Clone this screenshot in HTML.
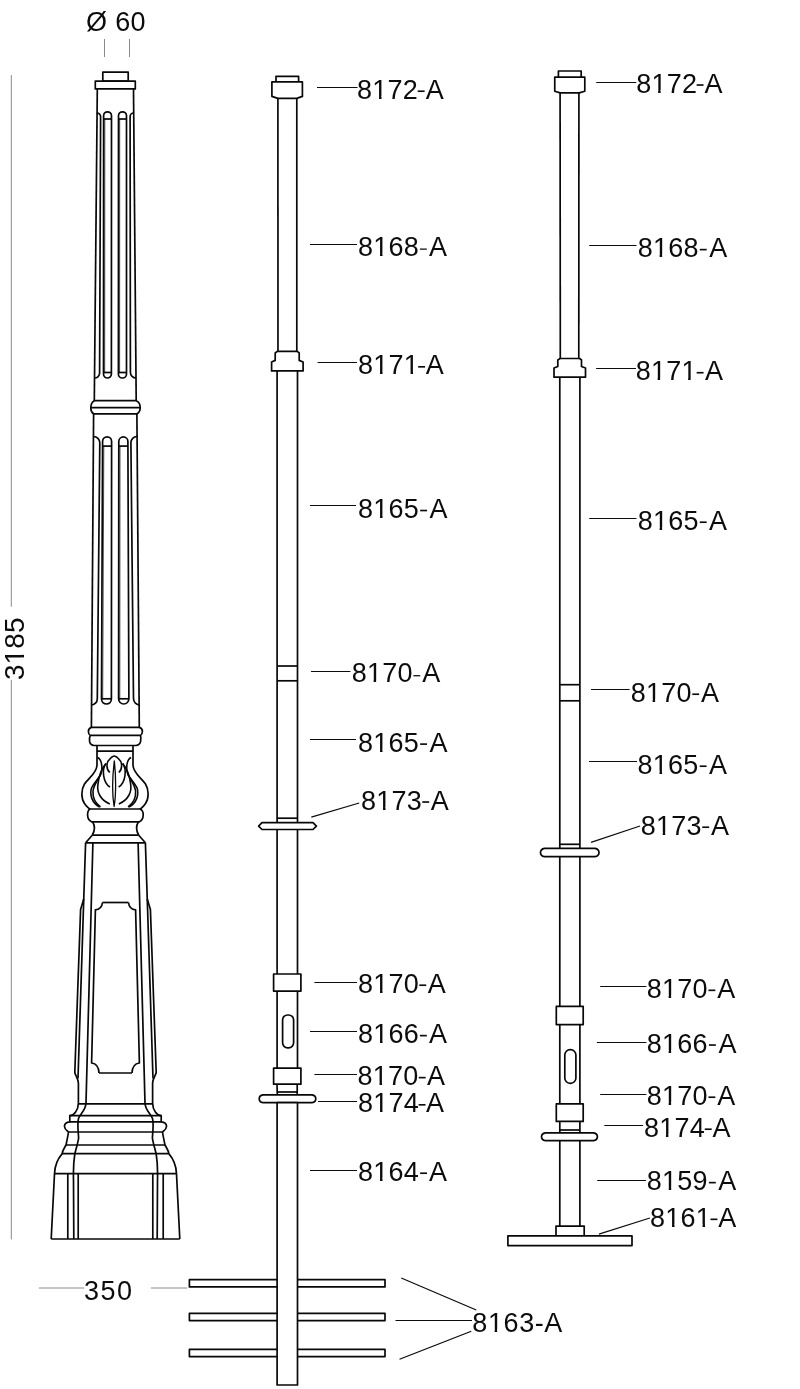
<!DOCTYPE html>
<html><head><meta charset="utf-8"><style>
html,body{margin:0;padding:0;background:#fff;}
svg{display:block;will-change:transform;font-family:"Liberation Sans",sans-serif;}
</style></head><body>
<svg width="800" height="1389" viewBox="0 0 800 1389" stroke-linejoin="round" stroke-linecap="butt">
<rect width="800" height="1389" fill="#fff"/>
<rect x="102.8" y="72.1" width="25.4" height="9.0" rx="0" stroke="#080808" stroke-width="1.7" fill="#fff"/>
<rect x="95.3" y="81.2" width="40.0" height="7.7" rx="0" stroke="#080808" stroke-width="1.7" fill="#fff"/>
<line x1="97.3" y1="89" x2="94.3" y2="400.7" stroke="#080808" stroke-width="1.7"/>
<line x1="133.5" y1="89" x2="136.2" y2="400.7" stroke="#080808" stroke-width="1.7"/>
<path d="M103.5,374.05 L103.6,115.75 A3.950000000000003,3.950000000000003 0 0 1 111.5,115.75 L111.4,374.05 A3.950000000000003,3.950000000000003 0 0 1 103.5,374.05" stroke="#080808" stroke-width="1.7" fill="none" />
<line x1="103.6" y1="119.0" x2="111.5" y2="119.0" stroke="#080808" stroke-width="1.7"/>
<line x1="103.5" y1="372.5" x2="111.4" y2="372.5" stroke="#080808" stroke-width="1.7"/>
<line x1="104.8" y1="119.0" x2="104.7" y2="372.5" stroke="#080808" stroke-width="0.7"/>
<path d="M118.4,373.95 L118.5,115.8 A4.0,4.0 0 0 1 126.5,115.8 L126.5,373.95 A4.049999999999997,4.049999999999997 0 0 1 118.4,373.95" stroke="#080808" stroke-width="1.7" fill="none" />
<line x1="118.5" y1="119.0" x2="126.5" y2="119.0" stroke="#080808" stroke-width="1.7"/>
<line x1="118.4" y1="372.5" x2="126.5" y2="372.5" stroke="#080808" stroke-width="1.7"/>
<line x1="119.7" y1="119.0" x2="119.60000000000001" y2="372.5" stroke="#080808" stroke-width="0.7"/>
<path d="M97.1,113.0 A3.5,3.5 0 0 1 100.6,116.5 L99.6,373.0 A5.0,5.0 0 0 1 94.6,378" stroke="#080808" stroke-width="1.7" fill="none" />
<path d="M133.6,113.0 A3.5,3.5 0 0 0 130.1,116.5 L130.4,372.4 A5.599999999999994,5.599999999999994 0 0 0 136.0,378" stroke="#080808" stroke-width="1.7" fill="none" />
<path d="M94.3,400.7 L136.2,400.7 Q140.3,402.5 140.2,407.7 Q140.2,412 136.9,413.8 L93.6,413.8 Q90.7,412 90.8,407.7 Q90.9,402.5 94.3,400.7 Z" stroke="#080808" stroke-width="1.7" fill="#fff" />
<line x1="90.8" y1="407.7" x2="140.2" y2="407.7" stroke="#080808" stroke-width="1.7"/>
<line x1="93.6" y1="413.8" x2="91.4" y2="727.4" stroke="#080808" stroke-width="1.7"/>
<line x1="136.9" y1="413.8" x2="139.3" y2="727.4" stroke="#080808" stroke-width="1.7"/>
<path d="M101.5,699.05 L102.6,441.4 A4.5,4.5 0 0 1 111.6,441.4 L111.4,699.05 A4.950000000000003,4.950000000000003 0 0 1 101.5,699.05" stroke="#080808" stroke-width="1.7" fill="none" />
<line x1="102.6" y1="446.09999999999997" x2="111.6" y2="446.09999999999997" stroke="#080808" stroke-width="1.7"/>
<line x1="101.5" y1="698.8" x2="111.4" y2="698.8" stroke="#080808" stroke-width="1.7"/>
<line x1="103.8" y1="446.09999999999997" x2="102.7" y2="698.8" stroke="#080808" stroke-width="0.7"/>
<path d="M118.6,698.85 L118.8,441.45 A4.550000000000004,4.550000000000004 0 0 1 127.9,441.45 L128.9,698.85 A5.150000000000006,5.150000000000006 0 0 1 118.6,698.85" stroke="#080808" stroke-width="1.7" fill="none" />
<line x1="118.8" y1="446.09999999999997" x2="127.9" y2="446.09999999999997" stroke="#080808" stroke-width="1.7"/>
<line x1="118.6" y1="698.8" x2="128.9" y2="698.8" stroke="#080808" stroke-width="1.7"/>
<line x1="120.0" y1="446.09999999999997" x2="119.8" y2="698.8" stroke="#080808" stroke-width="0.7"/>
<path d="M93.5,436.5 A6.299999999999997,6.299999999999997 0 0 1 99.8,442.8 L97.3,698.9 A6.099999999999994,6.099999999999994 0 0 1 91.2,705" stroke="#080808" stroke-width="1.7" fill="none" />
<path d="M137.0,436.5 A6.099999999999994,6.099999999999994 0 0 0 130.9,442.6 L133.5,698.6 A6.400000000000006,6.400000000000006 0 0 0 139.9,705" stroke="#080808" stroke-width="1.7" fill="none" />
<path d="M91.4,727.4 L139.3,727.4 Q142.6,728.5 142.4,731.5 Q142.2,734.5 140.5,735.4 Q141.2,738 140.6,741.5 Q139.5,745.3 136,745.5 L94,745.5 Q90.5,745.3 89.6,741.5 Q89,738 90.3,735.4 Q88.4,734.5 88.4,731.5 Q88.3,728.5 91.4,727.4 Z" stroke="#080808" stroke-width="1.7" fill="#fff" />
<line x1="90.3" y1="735.4" x2="140.5" y2="735.4" stroke="#080808" stroke-width="1.7"/>
<line x1="96.9" y1="751.2" x2="133.0" y2="751.2" stroke="#080808" stroke-width="1.7"/>
<path d="M97,745.5 L97,765 C97,773 88.5,778 84.5,784 C80.8,790 81.2,799 84.5,803.5 C86.5,806.5 88,808.5 90.5,809" stroke="#080808" stroke-width="1.7" fill="none" />
<path d="M133,745.5 L133,765 C133,773 141.5,778 145.5,784 C149.2,790 148.8,799 145.5,803.5 C143.5,806.5 142,808.5 139.5,809" stroke="#080808" stroke-width="1.7" fill="none" />
<path d="M90,809 L140,809 Q143.5,810.5 143.2,815.3 Q143,820 139.5,821.8 L91.5,821.8 Q87.8,820 87.6,815.3 Q87.4,810.5 90,809 Z" stroke="#080808" stroke-width="1.7" fill="#fff" />
<path d="M92.5,821.8 Q96.5,828 92.3,835.2" stroke="#080808" stroke-width="1.7" fill="none" />
<path d="M138.5,821.8 Q134.5,828 138.7,835.2" stroke="#080808" stroke-width="1.7" fill="none" />
<line x1="92.3" y1="835.2" x2="138.7" y2="835.2" stroke="#080808" stroke-width="1.7"/>
<line x1="92.3" y1="835.2" x2="85.6" y2="842.8" stroke="#080808" stroke-width="1.7"/>
<line x1="138.7" y1="835.2" x2="145.4" y2="842.8" stroke="#080808" stroke-width="1.7"/>
<line x1="85.6" y1="842.8" x2="145.4" y2="842.8" stroke="#080808" stroke-width="1.7"/>
<path d="M109.8,772.5 C106,769 106,762 110,758.8 C111.5,757 113,756 114.3,756 C115.6,756 117,757 118.6,758.8 C122.6,762 122.6,769 118.8,772.5" stroke="#080808" stroke-width="1.6" fill="none" />
<path d="M110,787 C103,783 101.5,769 106,763.5" stroke="#080808" stroke-width="1.6" fill="none" />
<path d="M118.6,787 C125.6,783 127.1,769 122.6,763.5" stroke="#080808" stroke-width="1.6" fill="none" />
<path d="M109.8,804 C100.5,800 96.5,792 98,784 C99,775 102,768 106,763.5" stroke="#080808" stroke-width="1.6" fill="none" />
<path d="M118.8,804 C128.1,800 132.1,792 130.6,784 C129.6,775 126.6,768 122.6,763.5" stroke="#080808" stroke-width="1.6" fill="none" />
<path d="M114.3,761 C112.6,775 112.2,795 114.1,806.5 C116.2,795 116,775 114.3,761 Z" stroke="#080808" stroke-width="1.3" fill="none" />
<path d="M97.5,757.5 C101.5,759 102.5,766 101.5,772 C100,778 94,782 91.5,788 C89.5,795 92,803 99.5,807" stroke="#080808" stroke-width="1.6" fill="none" />
<path d="M101,774 C98,780 94,784 93,791 C92.5,798 95,803 100.5,807" stroke="#080808" stroke-width="1.6" fill="none" />
<path d="M131.1,757.5 C127.1,759 126.1,766 127.1,772 C128.6,778 134.6,782 137.1,788 C139.1,795 136.6,803 129.1,807" stroke="#080808" stroke-width="1.6" fill="none" />
<path d="M127.6,774 C130.6,780 134.6,784 135.6,791 C136.1,798 133.6,803 128.1,807" stroke="#080808" stroke-width="1.6" fill="none" />
<path d="M85.6,842.8 L83.75,899 L80.6,909.4 L74.8,1072.5 C75.5,1076 78,1078 78.4,1083 L78.4,1103 C78.4,1110 74,1115.5 69.8,1115.6 L69.8,1121.8 C66,1122 64.3,1124 64.5,1126.5 C64.8,1130 67.5,1131 68.5,1132 C67.8,1137 66.8,1141 66,1145 C64.5,1148 62.5,1150 62.2,1153.6 C57.5,1159 54.8,1166 54.5,1173.7 L51.2,1239" stroke="#080808" stroke-width="1.7" fill="none" />
<path d="M83.75,899 L78,1078.5" stroke="#080808" stroke-width="1.7" fill="none" />
<path d="M92.9,842.8 L86,1103 C86,1110 80,1114 78.5,1118.5 C77,1124 78.5,1134 78.6,1138 C78.2,1142 76,1149 74.8,1154 C73.5,1162 73.2,1170 73.5,1180 L73.8,1239" stroke="#080808" stroke-width="1.7" fill="none" />
<path d="M102.5,902.5 C102,907 99,909.6 95.4,909.8 L91.6,1063 C95.8,1063.5 98.8,1067 99,1073" stroke="#080808" stroke-width="1.7" fill="none" />
<line x1="67.8" y1="1173.7" x2="67.8" y2="1239" stroke="#080808" stroke-width="1.7"/>
<line x1="78.2" y1="1173.7" x2="78.2" y2="1239" stroke="#080808" stroke-width="1.7"/>
<path d="M145.4,842.8 L147.25,899 L150.4,909.4 L156.2,1072.5 C155.5,1076 153.0,1078 152.6,1083 L152.6,1103 C152.6,1110 157.0,1115.5 161.2,1115.6 L161.2,1121.8 C165.0,1122 166.7,1124 166.5,1126.5 C166.2,1130 163.5,1131 162.5,1132 C163.2,1137 164.2,1141 165.0,1145 C166.5,1148 168.5,1150 168.8,1153.6 C173.5,1159 176.2,1166 176.5,1173.7 L179.8,1239" stroke="#080808" stroke-width="1.7" fill="none" />
<path d="M147.25,899 L153.0,1078.5" stroke="#080808" stroke-width="1.7" fill="none" />
<path d="M138.1,842.8 L145.0,1103 C145.0,1110 151.0,1114 152.5,1118.5 C154.0,1124 152.5,1134 152.4,1138 C152.8,1142 155.0,1149 156.2,1154 C157.5,1162 157.8,1170 157.5,1180 L157.2,1239" stroke="#080808" stroke-width="1.7" fill="none" />
<path d="M128.5,902.5 C129.0,907 132.0,909.6 135.6,909.8 L139.4,1063 C135.2,1063.5 132.2,1067 132.0,1073" stroke="#080808" stroke-width="1.7" fill="none" />
<line x1="163.2" y1="1173.7" x2="163.2" y2="1239" stroke="#080808" stroke-width="1.7"/>
<line x1="152.8" y1="1173.7" x2="152.8" y2="1239" stroke="#080808" stroke-width="1.7"/>
<line x1="102.5" y1="902.5" x2="128.5" y2="902.5" stroke="#080808" stroke-width="1.7"/>
<line x1="99" y1="1073" x2="132.0" y2="1073" stroke="#080808" stroke-width="1.7"/>
<line x1="78.4" y1="1103.8" x2="152.6" y2="1103.8" stroke="#080808" stroke-width="1.7"/>
<line x1="69.8" y1="1115.6" x2="161.2" y2="1115.6" stroke="#080808" stroke-width="1.7"/>
<line x1="69.8" y1="1121.8" x2="161.2" y2="1121.8" stroke="#080808" stroke-width="1.7"/>
<line x1="68.5" y1="1132" x2="162.5" y2="1132" stroke="#080808" stroke-width="1.7"/>
<line x1="66" y1="1145" x2="165.0" y2="1145" stroke="#080808" stroke-width="1.7"/>
<line x1="62.2" y1="1153.6" x2="168.8" y2="1153.6" stroke="#080808" stroke-width="1.7"/>
<line x1="54.5" y1="1173.7" x2="176.5" y2="1173.7" stroke="#080808" stroke-width="1.7"/>
<line x1="51.2" y1="1239" x2="179.8" y2="1239" stroke="#080808" stroke-width="1.7"/>
<line x1="277.9" y1="98.4" x2="278.0" y2="351.5" stroke="#080808" stroke-width="1.7"/>
<line x1="296.8" y1="98.4" x2="296.8" y2="351.5" stroke="#080808" stroke-width="1.7"/>
<line x1="277.1" y1="371" x2="277.1" y2="974" stroke="#080808" stroke-width="1.7"/>
<line x1="297.5" y1="371" x2="297.5" y2="974" stroke="#080808" stroke-width="1.7"/>
<line x1="277.1" y1="666" x2="297.5" y2="666" stroke="#080808" stroke-width="1.7"/>
<line x1="277.1" y1="680.8" x2="297.5" y2="680.8" stroke="#080808" stroke-width="1.7"/>
<line x1="277.1" y1="818.2" x2="297.5" y2="818.2" stroke="#080808" stroke-width="1.7"/>
<path d="M276,81.8 L276,76.3 L298.6,76.3 L298.6,81.8" stroke="#080808" stroke-width="1.7" fill="#fff" />
<path d="M271.9,81.8 L302.4,81.8 L302.4,96.4 L296.8,98.4 L277.8,98.4 L271.9,96.4 Z" stroke="#080808" stroke-width="1.7" fill="#fff" />
<path d="M277.3,351.4 L297.3,351.4 L299.2,353 L299.2,360.4 L303.1,362 L303.1,370.9 L271.6,370.9 L271.6,362 L275.2,360.4 L275.2,353 Z" stroke="#080808" stroke-width="1.7" fill="#fff" />
<path d="M262,822.7 L313,822.7 L316.4,826.1 L313,829.5 L262,829.5 L258.6,826.1 Z" stroke="#080808" stroke-width="1.7" fill="#fff" />
<rect x="273.6" y="974" width="27.3" height="17.1" rx="0" stroke="#080808" stroke-width="1.7" fill="#fff"/>
<line x1="277.1" y1="991.1" x2="277.1" y2="1068.1" stroke="#080808" stroke-width="1.7"/>
<line x1="297.5" y1="991.1" x2="297.5" y2="1068.1" stroke="#080808" stroke-width="1.7"/>
<rect x="282.6" y="1015" width="11" height="32.8" rx="5" stroke="#080808" stroke-width="1.7" fill="#fff"/>
<rect x="273.6" y="1068.1" width="27.3" height="16.1" rx="0" stroke="#080808" stroke-width="1.7" fill="#fff"/>
<line x1="277" y1="1084.2" x2="277.3" y2="1094.8" stroke="#080808" stroke-width="1.7"/>
<line x1="297.2" y1="1084.2" x2="297.2" y2="1094.8" stroke="#080808" stroke-width="1.7"/>
<line x1="277.3" y1="1092" x2="297.2" y2="1092" stroke="#080808" stroke-width="1.7"/>
<path d="M263,1094.8 L312,1094.8 Q315.8,1095.5 315.8,1098.7 Q315.8,1102 312,1102.7 L263,1102.7 Q259.2,1102 259.2,1098.7 Q259.2,1095.5 263,1094.8 Z" stroke="#080808" stroke-width="1.7" fill="#fff" />
<rect x="189.4" y="1279.7" width="195.6" height="7.2" rx="0" stroke="#080808" stroke-width="1.7" fill="#fff"/>
<rect x="189.4" y="1313.4" width="195.6" height="7.2" rx="0" stroke="#080808" stroke-width="1.7" fill="#fff"/>
<rect x="189.4" y="1349.4" width="195.6" height="7.2" rx="0" stroke="#080808" stroke-width="1.7" fill="#fff"/>
<rect x="277.1" y="1102.7" width="20.399999999999977" height="282.29999999999995" fill="#fff" stroke="#080808" stroke-width="1.7"/>
<line x1="560.1" y1="92.9" x2="560.3" y2="358.5" stroke="#080808" stroke-width="1.7"/>
<line x1="578.9" y1="92.9" x2="578.8" y2="358.5" stroke="#080808" stroke-width="1.7"/>
<line x1="559.8" y1="377.2" x2="559.8" y2="1006.4" stroke="#080808" stroke-width="1.7"/>
<line x1="579.9" y1="377.2" x2="579.9" y2="1006.4" stroke="#080808" stroke-width="1.7"/>
<line x1="559.8" y1="684.7" x2="579.9" y2="684.7" stroke="#080808" stroke-width="1.7"/>
<line x1="559.8" y1="700.8" x2="579.9" y2="700.8" stroke="#080808" stroke-width="1.7"/>
<line x1="559.8" y1="844.3" x2="579.9" y2="844.3" stroke="#080808" stroke-width="1.7"/>
<path d="M558.4,77.2 L558.4,71 L581.2,71 L581.2,77.2" stroke="#080808" stroke-width="1.7" fill="#fff" />
<path d="M554.75,77.2 L584.8,77.2 L584.8,91.25 L579.2,92.9 L560.1,92.9 L554.75,91.25 Z" stroke="#080808" stroke-width="1.7" fill="#fff" />
<path d="M560.2,358.5 L579.6,358.5 L581.5,360 L581.5,366.5 L585.5,368 L585.5,377.2 L554,377.2 L554,368 L557.8,366.5 L557.8,360 Z" stroke="#080808" stroke-width="1.7" fill="#fff" />
<path d="M544.5,848.3 L595,848.3 Q599,849 599,852.5 Q599,856 595,856.7 L544.5,856.7 Q540.5,856 540.5,852.5 Q540.5,849 544.5,848.3 Z" stroke="#080808" stroke-width="1.7" fill="#fff" />
<rect x="556.3" y="1006.4" width="26.9" height="18.2" rx="0" stroke="#080808" stroke-width="1.7" fill="#fff"/>
<line x1="559.8" y1="1024.6" x2="559.8" y2="1103.9" stroke="#080808" stroke-width="1.7"/>
<line x1="579.9" y1="1024.6" x2="579.9" y2="1103.9" stroke="#080808" stroke-width="1.7"/>
<rect x="564.8" y="1049.7" width="11.1" height="33.6" rx="5.3" stroke="#080808" stroke-width="1.7" fill="#fff"/>
<rect x="556.3" y="1103.9" width="26.9" height="17.5" rx="0" stroke="#080808" stroke-width="1.7" fill="#fff"/>
<line x1="559.8" y1="1121.4" x2="559.8" y2="1132.9" stroke="#080808" stroke-width="1.7"/>
<line x1="579.9" y1="1121.4" x2="579.9" y2="1132.9" stroke="#080808" stroke-width="1.7"/>
<line x1="559.8" y1="1130" x2="579.9" y2="1130" stroke="#080808" stroke-width="1.7"/>
<path d="M545.5,1132.9 L593.5,1132.9 Q597.4,1133.6 597.4,1136.8 Q597.4,1140 593.5,1140.7 L545.5,1140.7 Q541.5,1140 541.5,1136.8 Q541.5,1133.6 545.5,1132.9 Z" stroke="#080808" stroke-width="1.7" fill="#fff" />
<line x1="559.8" y1="1140.7" x2="559.8" y2="1226.1" stroke="#080808" stroke-width="1.7"/>
<line x1="579.9" y1="1140.7" x2="579.9" y2="1226.1" stroke="#080808" stroke-width="1.7"/>
<rect x="556" y="1226.1" width="28.2" height="9.8" rx="0" stroke="#080808" stroke-width="1.7" fill="#fff"/>
<rect x="507.9" y="1235.9" width="124.1" height="9.7" rx="0" stroke="#080808" stroke-width="1.7" fill="#fff"/>
<line x1="317" y1="87.5" x2="357.5" y2="87.5" stroke="#0c0c0c" stroke-width="1.15"/>
<text x="357.03" y="98.70" font-size="27" letter-spacing="0.25" fill="#0c0c0c">8172</text>
<text x="443.80" y="98.70" font-size="27" text-anchor="end" fill="#0c0c0c">A</text>
<rect x="417.71" y="90.40" width="6.9" height="1.65" fill="#0c0c0c"/>
<line x1="310" y1="244.5" x2="357" y2="244.5" stroke="#0c0c0c" stroke-width="1.15"/>
<text x="358.03" y="255.70" font-size="27" letter-spacing="0.25" fill="#0c0c0c">8168</text>
<text x="447.05" y="255.70" font-size="27" text-anchor="end" fill="#0c0c0c">A</text>
<rect x="419.93" y="248.50" width="6.9" height="1.25" fill="#0c0c0c"/>
<line x1="317.6" y1="362.5" x2="357" y2="362.5" stroke="#0c0c0c" stroke-width="1.15"/>
<text x="358.03" y="374.30" font-size="27" letter-spacing="0.25" fill="#0c0c0c">8171</text>
<text x="443.65" y="374.30" font-size="27" text-anchor="end" fill="#0c0c0c">A</text>
<rect x="418.16" y="366.00" width="6.9" height="1.65" fill="#0c0c0c"/>
<line x1="310" y1="505.5" x2="356" y2="505.5" stroke="#0c0c0c" stroke-width="1.15"/>
<text x="358.03" y="518.00" font-size="27" letter-spacing="0.25" fill="#0c0c0c">8165</text>
<text x="447.45" y="518.00" font-size="27" text-anchor="end" fill="#0c0c0c">A</text>
<rect x="420.15" y="509.70" width="6.9" height="1.65" fill="#0c0c0c"/>
<line x1="311" y1="671.5" x2="350.4" y2="671.5" stroke="#0c0c0c" stroke-width="1.15"/>
<text x="351.63" y="682.30" font-size="27" letter-spacing="0.25" fill="#0c0c0c">8170</text>
<text x="440.15" y="682.30" font-size="27" text-anchor="end" fill="#0c0c0c">A</text>
<rect x="413.34" y="675.10" width="6.9" height="1.25" fill="#0c0c0c"/>
<line x1="310" y1="739.5" x2="356" y2="739.5" stroke="#0c0c0c" stroke-width="1.15"/>
<text x="358.03" y="751.60" font-size="27" letter-spacing="0.25" fill="#0c0c0c">8165</text>
<text x="447.45" y="751.60" font-size="27" text-anchor="end" fill="#0c0c0c">A</text>
<rect x="420.15" y="743.30" width="6.9" height="1.65" fill="#0c0c0c"/>
<line x1="311.3" y1="817.1" x2="359.2" y2="803" stroke="#0c0c0c" stroke-width="1.3"/>
<text x="361.03" y="809.50" font-size="27" letter-spacing="0.25" fill="#0c0c0c">8173</text>
<text x="448.75" y="809.50" font-size="27" text-anchor="end" fill="#0c0c0c">A</text>
<rect x="422.28" y="801.20" width="6.9" height="1.65" fill="#0c0c0c"/>
<line x1="314.4" y1="982.5" x2="357" y2="982.5" stroke="#0c0c0c" stroke-width="1.15"/>
<text x="358.03" y="992.70" font-size="27" letter-spacing="0.25" fill="#0c0c0c">8170</text>
<text x="445.65" y="992.70" font-size="27" text-anchor="end" fill="#0c0c0c">A</text>
<rect x="419.29" y="984.40" width="6.9" height="1.65" fill="#0c0c0c"/>
<line x1="310" y1="1031.5" x2="357" y2="1031.5" stroke="#0c0c0c" stroke-width="1.15"/>
<text x="358.03" y="1043.10" font-size="27" letter-spacing="0.25" fill="#0c0c0c">8166</text>
<text x="447.05" y="1043.10" font-size="27" text-anchor="end" fill="#0c0c0c">A</text>
<rect x="419.93" y="1034.80" width="6.9" height="1.65" fill="#0c0c0c"/>
<line x1="314.4" y1="1074.5" x2="357" y2="1074.5" stroke="#0c0c0c" stroke-width="1.15"/>
<text x="357.53" y="1085.10" font-size="27" letter-spacing="0.25" fill="#0c0c0c">8170</text>
<text x="445.05" y="1085.10" font-size="27" text-anchor="end" fill="#0c0c0c">A</text>
<rect x="418.74" y="1076.80" width="6.9" height="1.65" fill="#0c0c0c"/>
<line x1="318" y1="1101.5" x2="357" y2="1101.5" stroke="#0c0c0c" stroke-width="1.15"/>
<text x="358.03" y="1112.30" font-size="27" letter-spacing="0.25" fill="#0c0c0c">8174</text>
<text x="444.05" y="1112.30" font-size="27" text-anchor="end" fill="#0c0c0c">A</text>
<rect x="418.62" y="1104.00" width="6.9" height="1.65" fill="#0c0c0c"/>
<line x1="310" y1="1170.5" x2="357" y2="1170.5" stroke="#0c0c0c" stroke-width="1.15"/>
<text x="358.03" y="1180.70" font-size="27" letter-spacing="0.25" fill="#0c0c0c">8164</text>
<text x="447.05" y="1180.70" font-size="27" text-anchor="end" fill="#0c0c0c">A</text>
<rect x="420.12" y="1172.40" width="6.9" height="1.65" fill="#0c0c0c"/>
<line x1="596.2" y1="82.5" x2="636.2" y2="82.5" stroke="#0c0c0c" stroke-width="1.15"/>
<text x="636.13" y="92.50" font-size="27" letter-spacing="0.25" fill="#0c0c0c">8172</text>
<text x="722.55" y="92.50" font-size="27" text-anchor="end" fill="#0c0c0c">A</text>
<rect x="696.64" y="84.20" width="6.9" height="1.65" fill="#0c0c0c"/>
<line x1="589.2" y1="245.5" x2="636.5" y2="245.5" stroke="#0c0c0c" stroke-width="1.15"/>
<text x="637.63" y="257.10" font-size="27" letter-spacing="0.25" fill="#0c0c0c">8168</text>
<text x="727.15" y="257.10" font-size="27" text-anchor="end" fill="#0c0c0c">A</text>
<rect x="699.78" y="248.80" width="6.9" height="1.65" fill="#0c0c0c"/>
<line x1="596.1" y1="368.5" x2="636" y2="368.5" stroke="#0c0c0c" stroke-width="1.15"/>
<text x="635.63" y="380.20" font-size="27" letter-spacing="0.25" fill="#0c0c0c">8171</text>
<text x="723.05" y="380.20" font-size="27" text-anchor="end" fill="#0c0c0c">A</text>
<rect x="696.66" y="371.90" width="6.9" height="1.65" fill="#0c0c0c"/>
<line x1="589.2" y1="518.5" x2="636.5" y2="518.5" stroke="#0c0c0c" stroke-width="1.15"/>
<text x="637.63" y="529.70" font-size="27" letter-spacing="0.25" fill="#0c0c0c">8165</text>
<text x="727.05" y="529.70" font-size="27" text-anchor="end" fill="#0c0c0c">A</text>
<rect x="699.75" y="521.40" width="6.9" height="1.65" fill="#0c0c0c"/>
<line x1="591" y1="689.5" x2="629.6" y2="689.5" stroke="#0c0c0c" stroke-width="1.15"/>
<text x="630.63" y="701.70" font-size="27" letter-spacing="0.25" fill="#0c0c0c">8170</text>
<text x="719.05" y="701.70" font-size="27" text-anchor="end" fill="#0c0c0c">A</text>
<rect x="692.29" y="693.40" width="6.9" height="1.65" fill="#0c0c0c"/>
<line x1="589" y1="761.5" x2="637" y2="761.5" stroke="#0c0c0c" stroke-width="1.15"/>
<text x="637.53" y="773.70" font-size="27" letter-spacing="0.25" fill="#0c0c0c">8165</text>
<text x="727.05" y="773.70" font-size="27" text-anchor="end" fill="#0c0c0c">A</text>
<rect x="699.70" y="765.40" width="6.9" height="1.65" fill="#0c0c0c"/>
<line x1="591" y1="842.4" x2="640" y2="826" stroke="#0c0c0c" stroke-width="1.3"/>
<text x="640.73" y="834.70" font-size="27" letter-spacing="0.25" fill="#0c0c0c">8173</text>
<text x="729.05" y="834.70" font-size="27" text-anchor="end" fill="#0c0c0c">A</text>
<rect x="702.28" y="826.40" width="6.9" height="1.65" fill="#0c0c0c"/>
<line x1="600.2" y1="986.5" x2="646.4" y2="986.5" stroke="#0c0c0c" stroke-width="1.15"/>
<text x="646.63" y="997.80" font-size="27" letter-spacing="0.25" fill="#0c0c0c">8170</text>
<text x="735.35" y="997.80" font-size="27" text-anchor="end" fill="#0c0c0c">A</text>
<rect x="708.44" y="989.50" width="6.9" height="1.65" fill="#0c0c0c"/>
<line x1="596.9" y1="1042.5" x2="646.4" y2="1042.5" stroke="#0c0c0c" stroke-width="1.15"/>
<text x="646.63" y="1052.50" font-size="27" letter-spacing="0.25" fill="#0c0c0c">8166</text>
<text x="736.45" y="1052.50" font-size="27" text-anchor="end" fill="#0c0c0c">A</text>
<rect x="708.93" y="1044.20" width="6.9" height="1.65" fill="#0c0c0c"/>
<line x1="600.2" y1="1094.5" x2="646.4" y2="1094.5" stroke="#0c0c0c" stroke-width="1.15"/>
<text x="646.63" y="1104.70" font-size="27" letter-spacing="0.25" fill="#0c0c0c">8170</text>
<text x="735.35" y="1104.70" font-size="27" text-anchor="end" fill="#0c0c0c">A</text>
<rect x="708.44" y="1096.40" width="6.9" height="1.65" fill="#0c0c0c"/>
<line x1="604.3" y1="1125.5" x2="643" y2="1125.5" stroke="#0c0c0c" stroke-width="1.15"/>
<text x="643.93" y="1136.70" font-size="27" letter-spacing="0.25" fill="#0c0c0c">8174</text>
<text x="730.45" y="1136.70" font-size="27" text-anchor="end" fill="#0c0c0c">A</text>
<rect x="704.77" y="1128.40" width="6.9" height="1.65" fill="#0c0c0c"/>
<line x1="597.2" y1="1180.5" x2="646" y2="1180.5" stroke="#0c0c0c" stroke-width="1.15"/>
<text x="646.73" y="1190.10" font-size="27" letter-spacing="0.25" fill="#0c0c0c">8159</text>
<text x="736.35" y="1190.10" font-size="27" text-anchor="end" fill="#0c0c0c">A</text>
<rect x="708.88" y="1181.80" width="6.9" height="1.65" fill="#0c0c0c"/>
<line x1="598.9" y1="1234.2" x2="649.9" y2="1218" stroke="#0c0c0c" stroke-width="1.3"/>
<text x="650.03" y="1226.80" font-size="27" letter-spacing="0.25" fill="#0c0c0c">8161</text>
<text x="736.35" y="1226.80" font-size="27" text-anchor="end" fill="#0c0c0c">A</text>
<rect x="710.51" y="1218.50" width="6.9" height="1.65" fill="#0c0c0c"/>
<line x1="401.25" y1="1278" x2="476.25" y2="1310" stroke="#0c0c0c" stroke-width="1.3"/>
<line x1="395.5" y1="1320.5" x2="472" y2="1320.5" stroke="#0c0c0c" stroke-width="1.15"/>
<line x1="399.5" y1="1359.25" x2="471.25" y2="1331.25" stroke="#0c0c0c" stroke-width="1.3"/>
<text x="472.3" y="1331.5" font-size="27" letter-spacing="0.6" fill="#0c0c0c">8163-A</text>
<line x1="104.5" y1="39" x2="104.5" y2="57" stroke="#8a8a8a" stroke-width="1.0"/>
<line x1="129.5" y1="39" x2="129.5" y2="57" stroke="#8a8a8a" stroke-width="1.0"/>
<text x="86" y="31" font-size="27" letter-spacing="0.35" fill="#0c0c0c">Ø 60</text>
<line x1="11.3" y1="75" x2="11.3" y2="606.7" stroke="#8a8a8a" stroke-width="1.0"/>
<line x1="11.3" y1="679.8" x2="11.3" y2="1239.4" stroke="#8a8a8a" stroke-width="1.0"/>
<text transform="translate(23.9,680.1) rotate(-90)" x="0" y="0" font-size="28" letter-spacing="0.1" fill="#0c0c0c">3185</text>
<line x1="38.9" y1="1288" x2="84.2" y2="1288" stroke="#8a8a8a" stroke-width="1.0"/>
<line x1="151" y1="1288" x2="187.2" y2="1288" stroke="#8a8a8a" stroke-width="1.0"/>
<text x="84" y="1300.2" font-size="27" letter-spacing="1.45" fill="#0c0c0c">350</text>
<rect x="373.65" y="96.18" width="5.38" height="3.52" fill="#fff"/><rect x="381.52" y="96.18" width="5.22" height="3.52" fill="#fff"/>
<rect x="374.65" y="253.18" width="5.38" height="3.52" fill="#fff"/><rect x="382.52" y="253.18" width="5.22" height="3.52" fill="#fff"/>
<rect x="374.65" y="371.78" width="5.38" height="3.52" fill="#fff"/><rect x="382.52" y="371.78" width="5.22" height="3.52" fill="#fff"/>
<rect x="405.18" y="371.78" width="5.38" height="3.52" fill="#fff"/><rect x="413.05" y="371.78" width="5.22" height="3.52" fill="#fff"/>
<rect x="374.65" y="515.48" width="5.38" height="3.52" fill="#fff"/><rect x="382.52" y="515.48" width="5.22" height="3.52" fill="#fff"/>
<rect x="368.25" y="679.78" width="5.38" height="3.52" fill="#fff"/><rect x="376.12" y="679.78" width="5.22" height="3.52" fill="#fff"/>
<rect x="374.65" y="749.08" width="5.38" height="3.52" fill="#fff"/><rect x="382.52" y="749.08" width="5.22" height="3.52" fill="#fff"/>
<rect x="377.65" y="806.98" width="5.38" height="3.52" fill="#fff"/><rect x="385.52" y="806.98" width="5.22" height="3.52" fill="#fff"/>
<rect x="374.65" y="990.18" width="5.38" height="3.52" fill="#fff"/><rect x="382.52" y="990.18" width="5.22" height="3.52" fill="#fff"/>
<rect x="374.65" y="1040.58" width="5.38" height="3.52" fill="#fff"/><rect x="382.52" y="1040.58" width="5.22" height="3.52" fill="#fff"/>
<rect x="374.15" y="1082.58" width="5.38" height="3.52" fill="#fff"/><rect x="382.02" y="1082.58" width="5.22" height="3.52" fill="#fff"/>
<rect x="374.65" y="1109.78" width="5.38" height="3.52" fill="#fff"/><rect x="382.52" y="1109.78" width="5.22" height="3.52" fill="#fff"/>
<rect x="374.65" y="1178.18" width="5.38" height="3.52" fill="#fff"/><rect x="382.52" y="1178.18" width="5.22" height="3.52" fill="#fff"/>
<rect x="652.75" y="89.98" width="5.38" height="3.52" fill="#fff"/><rect x="660.62" y="89.98" width="5.22" height="3.52" fill="#fff"/>
<rect x="654.25" y="254.58" width="5.38" height="3.52" fill="#fff"/><rect x="662.12" y="254.58" width="5.22" height="3.52" fill="#fff"/>
<rect x="652.25" y="377.68" width="5.38" height="3.52" fill="#fff"/><rect x="660.12" y="377.68" width="5.22" height="3.52" fill="#fff"/>
<rect x="682.78" y="377.68" width="5.38" height="3.52" fill="#fff"/><rect x="690.65" y="377.68" width="5.22" height="3.52" fill="#fff"/>
<rect x="654.25" y="527.18" width="5.38" height="3.52" fill="#fff"/><rect x="662.12" y="527.18" width="5.22" height="3.52" fill="#fff"/>
<rect x="647.25" y="699.18" width="5.38" height="3.52" fill="#fff"/><rect x="655.12" y="699.18" width="5.22" height="3.52" fill="#fff"/>
<rect x="654.15" y="771.18" width="5.38" height="3.52" fill="#fff"/><rect x="662.02" y="771.18" width="5.22" height="3.52" fill="#fff"/>
<rect x="657.35" y="832.18" width="5.38" height="3.52" fill="#fff"/><rect x="665.22" y="832.18" width="5.22" height="3.52" fill="#fff"/>
<rect x="663.25" y="995.28" width="5.38" height="3.52" fill="#fff"/><rect x="671.12" y="995.28" width="5.22" height="3.52" fill="#fff"/>
<rect x="663.25" y="1049.98" width="5.38" height="3.52" fill="#fff"/><rect x="671.12" y="1049.98" width="5.22" height="3.52" fill="#fff"/>
<rect x="663.25" y="1102.18" width="5.38" height="3.52" fill="#fff"/><rect x="671.12" y="1102.18" width="5.22" height="3.52" fill="#fff"/>
<rect x="660.55" y="1134.18" width="5.38" height="3.52" fill="#fff"/><rect x="668.42" y="1134.18" width="5.22" height="3.52" fill="#fff"/>
<rect x="663.35" y="1187.58" width="5.38" height="3.52" fill="#fff"/><rect x="671.22" y="1187.58" width="5.22" height="3.52" fill="#fff"/>
<rect x="666.65" y="1224.28" width="5.38" height="3.52" fill="#fff"/><rect x="674.52" y="1224.28" width="5.22" height="3.52" fill="#fff"/>
<rect x="697.18" y="1224.28" width="5.38" height="3.52" fill="#fff"/><rect x="705.05" y="1224.28" width="5.22" height="3.52" fill="#fff"/>
<rect x="489.27" y="1328.98" width="5.38" height="3.52" fill="#fff"/><rect x="497.14" y="1328.98" width="5.22" height="3.52" fill="#fff"/>
<g transform="matrix(0,-1,1,0,23.899999618530273,680.0999755859375)"><rect x="17.10" y="-2.59" width="5.56" height="3.59" fill="#fff"/><rect x="25.24" y="-2.59" width="5.39" height="3.59" fill="#fff"/></g>
</svg></body></html>
